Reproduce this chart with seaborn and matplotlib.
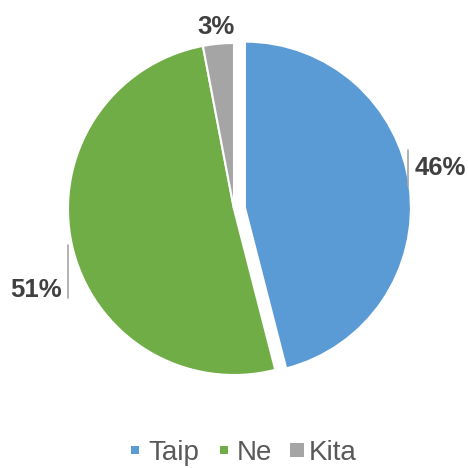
import matplotlib
matplotlib.use("Agg")
import matplotlib.pyplot as plt
import seaborn as sns
import numpy as np
from matplotlib.lines import Line2D

sns.set_theme(style="white")
plt.rcParams['font.family'] = ['Liberation Sans', 'DejaVu Sans']

categories = ["Taip", "Ne", "Kita"]
values = [46, 51, 3]
labels = ["46%", "51%", "3%"]
colors = ["#5B9BD5", "#70AD47", "#A5A5A5"]
explode = [11, 0, 0]

fig = plt.figure(figsize=(4.68, 4.68), dpi=100)
ax = fig.add_axes([0, 0, 1, 1])

cx, cy, R = 234, 468 - 209, 166
wedges, _ = ax.pie(values, colors=colors, startangle=90, counterclock=False,
                   explode=explode, radius=R, center=(cx, cy), frame=True,
                   wedgeprops=dict(edgecolor="white", linewidth=1.5))
ax.set_xlim(0, 468)
ax.set_ylim(0, 468)
ax.set_aspect("equal")
ax.axis("off")

# label positions (pixel offsets from pie centre)
lab_off = [(206, 41), (-198, -81), (-18, 182)]
for (dx, dy), lab in zip(lab_off, labels):
    ax.text(cx + dx, cy + dy, lab, ha="center", va="center",
            fontsize=18.5, fontweight="bold", color="#404040")

# leader lines
ax.plot([408, 408], [468 - 150, 468 - 186], color="#A6A6A6", lw=1.2)
ax.plot([68, 68], [468 - 245, 468 - 298], color="#A6A6A6", lw=1.2)

msizes = [6.3, 6.3, 10.5]
handles = [Line2D([], [], marker="s", linestyle="", markersize=m,
                  markerfacecolor=c, markeredgecolor=c, markeredgewidth=0)
           for c, m in zip(colors, msizes)]
fig.legend(handles, categories, loc="center", bbox_to_anchor=(242 / 468, 1 - 453 / 468),
           ncol=3, frameon=False, fontsize=20, handlelength=0.6,
           handletextpad=0.15, columnspacing=0.6, labelcolor="#595959",
           borderpad=0, borderaxespad=0)

fig.savefig("out.png", dpi=100)
